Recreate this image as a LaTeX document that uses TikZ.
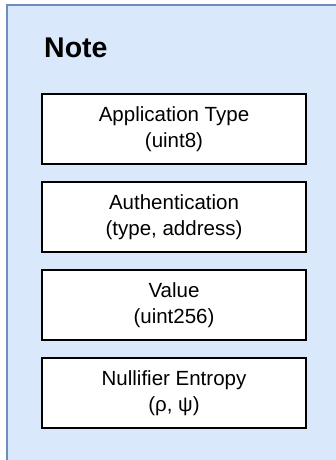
\documentclass[tikz,border=0pt]{standalone}
\usepackage{fontspec}
\setmainfont{Liberation Sans}
\definecolor{noteFill}{HTML}{DAE8FC}
\definecolor{noteLine}{HTML}{6C8EBF}
\tikzset{
    field/.style={draw=black,fill=white,line width=1.8pt,minimum width=264pt,minimum height=70pt,
        align=center,inner sep=2pt,font=\fontsize{20.5}{26}\selectfont},
}

\begin{document}
\begin{tikzpicture}[x=1pt,y=-1pt]
            \useasboundingbox (0,0) rectangle (336,460);
            \clip (0,0) rectangle (336,460);
            \draw[noteLine,fill=noteFill,line width=1.5pt] (7,5) rectangle (350,475);
            \node[anchor=base west,inner sep=0pt,font=\fontsize{28.5}{34}\selectfont\bfseries] (title) at (44,57) {Note};
            \foreach \name/\txt [count=\i] in {apptype/{Application Type\\(uint8)},
                    auth/{Authentication\\(type, address)},
                    value/{Value\\(uint256)},
                    entropy/{Nullifier Entropy\\(ρ, ψ)}}{
                \node[field] (\name) at (174,129+88*\i-88) {\txt};
            }
        \end{tikzpicture}
\end{document}
